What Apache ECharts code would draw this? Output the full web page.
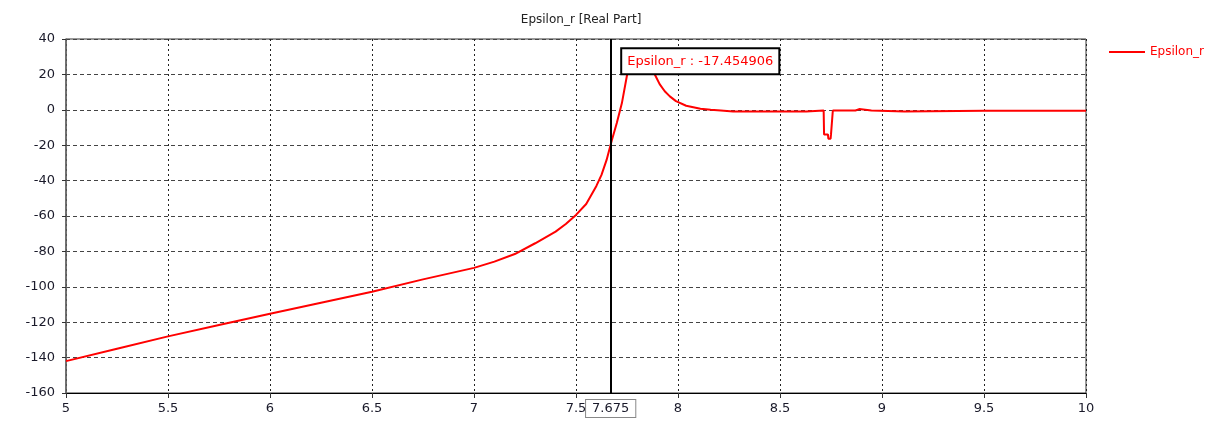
<!DOCTYPE html>
<html>
<head>
<meta charset="utf-8">
<script src="https://cdn.jsdelivr.net/npm/echarts@6/dist/echarts.min.js"></script>
<style>
html,body{margin:0;padding:0;background:#fff;}
#chart{width:1218px;height:423px;}
</style>
</head>
<body>
<div id="chart"></div>
<script>
var chartTitle = 'Epsilon_r [Real Part]';
var seriesName = 'Epsilon_r';
var xTickMin = 5, xTickMax = 10, xTickStep = 0.5;
var yTickMin = -160, yTickMax = 40, yTickStep = 20;
var cursorX = 7.675;
var cursorValue = -17.454906;
var cursorLabel = '7.675';
var tooltipAnchorY = 27.5;

var freqX = [
  5.00, 5.25, 5.50, 5.75, 6.00, 6.25, 6.50, 6.75, 7.00, 7.10,
  7.20, 7.30, 7.40, 7.45, 7.50, 7.55, 7.60, 7.625, 7.65, 7.675,
  7.70, 7.725, 7.75, 7.78, 7.80, 7.82, 7.84, 7.865, 7.887, 7.91,
  7.935, 7.96, 7.99, 8.04, 8.11, 8.16, 8.21, 8.27, 8.35, 8.45, 8.55,
  8.629, 8.632, 8.714, 8.716, 8.735, 8.737, 8.748, 8.750, 8.757, 8.759,
  8.87, 8.872, 8.888, 8.890, 8.948, 8.950, 9.110, 9.112, 9.50, 10.00
];
var epsReal = [
  -142.0, -135.0, -128.0, -121.6, -115.2, -109.0, -102.8, -95.8, -89.3, -85.8,
  -81.5, -75.4, -68.8, -64.5, -59.4, -53.2, -43.0, -36.8, -28.3, -17.45,
  -7.5, 3.8, 19.5, 29.0, 33.0, 34.0, 31.0, 25.0, 19.8, 14.5,
  10.5, 7.6, 4.9, 2.3, 0.6, 0.0, -0.4, -0.9, -1.0, -1.0, -1.0,
  -1.0, -0.4, -0.4, -13.9, -13.9, -16.3, -16.3, -13.9, -13.9, -0.4,
  -0.4, 0.4, 0.4, -0.4, -0.4, -1.0, -1.0, -0.5, -0.5, -0.5
];

var seriesData = freqX.map(function (x, i) { return [x, epsReal[i]]; });

var fontFam = 'DejaVu Sans';
var chart = echarts.init(document.getElementById('chart'), null, {renderer: 'canvas'});
chart.setOption({
  backgroundColor: '#ffffff',
  animation: false,
  title: {
    text: chartTitle,
    left: '47.3%',
    textAlign: 'center',
    top: 9,
    textStyle: {fontFamily: fontFam, fontSize: 12, fontWeight: 'normal', color: '#222'}
  },
  legend: {
    data: [seriesName],
    left: 1104,
    top: 41,
    icon: 'rect',
    itemWidth: 36,
    itemHeight: 2,
    itemGap: 6,
    textStyle: {fontFamily: fontFam, fontSize: 12, color: '#ff0000'}
  },
  grid: {
    left: 66, right: 132, top: 39, bottom: 30,
    show: true, borderColor: '#333', borderWidth: 1
  },
  xAxis: {
    type: 'value',
    min: xTickMin, max: xTickMax, interval: xTickStep,
    axisLine: {show: true, onZero: false, lineStyle: {color: '#000', width: 1}},
    axisTick: {show: true, inside: false, length: 5, lineStyle: {color: '#333'}},
    axisLabel: {fontFamily: fontFam, fontSize: 13, color: '#1a1a2a', margin: 9},
    splitLine: {show: true, lineStyle: {color: '#222', type: [2, 3], width: 1}}
  },
  yAxis: {
    type: 'value',
    min: yTickMin, max: yTickMax, interval: yTickStep,
    axisLine: {show: true, onZero: false, lineStyle: {color: '#666', width: 1.5}},
    axisTick: {show: true, inside: false, length: 4, lineStyle: {color: '#333'}},
    axisLabel: {fontFamily: fontFam, fontSize: 13, color: '#1a1a2a', margin: 11},
    splitLine: {show: true, lineStyle: {color: '#444', type: [4, 3], width: 1}}
  },
  series: [{
    name: seriesName,
    type: 'line',
    data: seriesData,
    symbol: 'none',
    showSymbol: false,
    smooth: false,
    lineStyle: {color: '#ff0000', width: 2},
    itemStyle: {color: '#ff0000'},
    clip: true,
    markLine: {
      silent: true,
      symbol: ['none', 'none'],
      animation: false,
      lineStyle: {color: '#000', width: 2, type: 'solid'},
      label: {
        show: true,
        position: 'start',
        formatter: cursorLabel,
        distance: 7,
        fontFamily: fontFam,
        fontSize: 13,
        color: '#1a1a2a',
        backgroundColor: '#fff',
        borderColor: '#888',
        borderWidth: 1,
        padding: [2, 6, 2, 6]
      },
      data: [{xAxis: cursorX}]
    },
    markPoint: {
      silent: true,
      animation: false,
      symbol: 'circle',
      symbolSize: 1,
      itemStyle: {color: 'rgba(0,0,0,0)'},
      label: {
        show: true,
        position: 'right',
        distance: 10,
        formatter: seriesName + ' : ' + cursorValue.toFixed(6),
        fontFamily: fontFam,
        fontSize: 13,
        color: '#ff0000',
        backgroundColor: '#fff',
        borderColor: '#000',
        borderWidth: 2,
        padding: [6, 5, 5, 5]
      },
      data: [{coord: [cursorX, tooltipAnchorY]}]
    }
  }]
});
</script>
</body>
</html>
